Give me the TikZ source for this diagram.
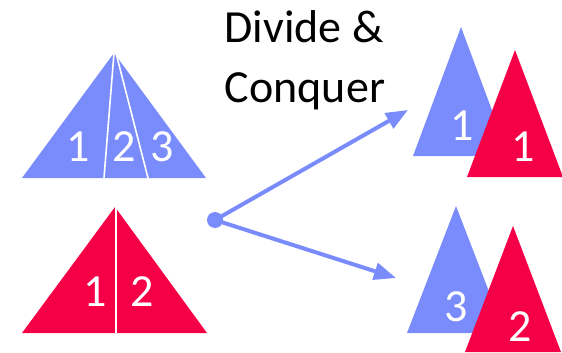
\documentclass[tikz,border=0pt]{standalone}
\usepackage{fontspec}
\setmainfont{Carlito}
\usetikzlibrary{arrows.meta}
\definecolor{tblue}{RGB}{122,140,251}
\definecolor{tred}{RGB}{245,0,71}
\begin{document}
\begin{tikzpicture}[x=1pt,y=-1pt,
  digit/.style={text=white,font=\fontsize{46}{52}\selectfont,inner sep=0pt,anchor=center},
  title/.style={text=black,font=\fontsize{46}{56}\selectfont,inner sep=0pt,anchor=base},
  divline/.style={draw=white,line width=1.6pt},
  conn/.style={draw=tblue,line width=4pt,-{Triangle[length=22pt,width=17pt]}}]
\useasboundingbox (0,0) rectangle (562,353);
% big blue triangle
\fill[tblue] (114,53) -- (22,178) -- (206,178) -- cycle;
\draw[divline] (114,53) -- (104,178);
\draw[divline] (116,53) -- (148,178);
\node[digit] (b1) at (78,147) {1};
\node[digit] (b2) at (124,147) {2};
\node[digit] (b3) at (162,147) {3};
% big red triangle
\fill[tred] (115,207) -- (22,333) -- (207,333) -- cycle;
\draw[divline] (116,207) -- (116,333);
\node[digit] (r1) at (95,292) {1};
\node[digit] (r2) at (142,292) {2};
% title
\node[title] (t1) at (304,43) {Divide \&};
\node[title] (t2) at (305,102) {Conquer};
% right top
\fill[tblue] (461,27) -- (413,156) -- (509,156) -- cycle;
\node[digit] (rb1) at (462,126) {1};
\fill[tred] (515,50) -- (467,177) -- (563,177) -- cycle;
\node[digit] (rr1) at (523,147) {1};
% right bottom
\fill[tblue] (456,206) -- (407,333) -- (505,333) -- cycle;
\node[digit] (rb3) at (456,307) {3};
\fill[tred] (513,226) -- (465,352) -- (561,352) -- cycle;
\node[digit] (rr2) at (520,327) {2};
% arrows
\node[circle,fill=tblue,inner sep=0pt,minimum size=16pt] (dot) at (215,220) {};
\coordinate (up) at (408,110);
\coordinate (dn) at (396,278);
\draw[conn] (dot.center) -- (up);
\draw[conn] (dot.center) -- (dn);
\end{tikzpicture}
\end{document}
